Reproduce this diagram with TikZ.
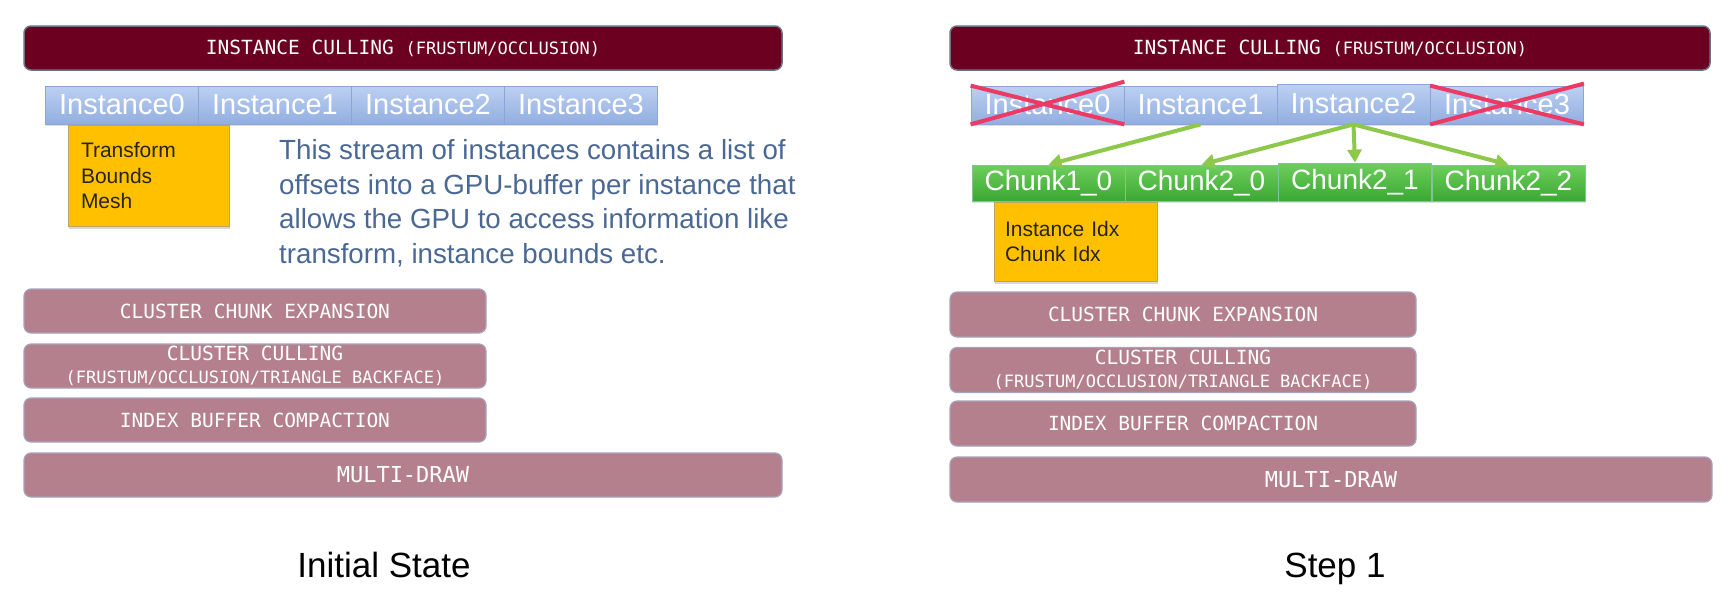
\documentclass[tikz,border=0pt]{standalone}
\usepackage{fontspec}
\setmainfont{Liberation Sans}
\newfontfamily\pipefont{DejaVu Sans Mono}
\usetikzlibrary{arrows.meta,shadows,calc}
\definecolor{barred}{RGB}{108,0,32}
\definecolor{barborder}{RGB}{112,112,132}
\definecolor{stagepink}{RGB}{181,128,141}
\definecolor{stageborder}{RGB}{168,162,188}
\definecolor{insttop}{RGB}{188,208,242}
\definecolor{instbot}{RGB}{146,174,224}
\definecolor{instborder}{RGB}{140,165,214}
\definecolor{chunktop}{RGB}{110,206,92}
\definecolor{chunkbot}{RGB}{58,168,50}
\definecolor{chunkborder}{RGB}{130,196,150}
\definecolor{infoyellow}{RGB}{255,192,0}
\definecolor{infoborder}{RGB}{185,165,100}
\definecolor{infotext}{RGB}{40,36,20}
\definecolor{paratext}{RGB}{74,104,148}
\definecolor{crossred}{RGB}{236,58,100}
\definecolor{arrowgreen}{RGB}{142,200,75}
\tikzset{
  cullbar/.style={draw=barborder, line width=1.5pt, fill=barred, rounded corners=7pt,
    text=white, font=\pipefont\fontsize{19.5}{23}\selectfont, inner sep=0pt},
  stage/.style={draw=stageborder, line width=1.2pt, fill=stagepink, rounded corners=7pt,
    text=white, font=\pipefont\fontsize{19.5}{23}\selectfont, align=center, inner sep=0pt},
  inst/.style={draw=instborder, line width=0.8pt, top color=insttop, bottom color=instbot,
    text=white, font=\fontsize{29}{32}\selectfont, minimum width=153, minimum height=38,
    inner sep=0pt, drop shadow={shadow xshift=0pt, shadow yshift=-2pt, opacity=0.25}},
  chunkbox/.style={draw=chunkborder, line width=0.8pt, top color=chunktop, bottom color=chunkbot,
    text=white, font=\fontsize{28}{31}\selectfont, minimum width=153, minimum height=36,
    inner sep=0pt, drop shadow={shadow xshift=0pt, shadow yshift=-2pt, opacity=0.25}},
  infobox/.style={draw=infoborder, line width=0.8pt, fill=infoyellow, text=infotext,
    font=\fontsize{21}{25.5}\selectfont, align=left, inner ysep=0pt,
    drop shadow={shadow xshift=1pt, shadow yshift=-3pt, opacity=0.3}},
  crossline/.style={draw=crossred, line width=4pt},
  greenarrow/.style={draw=arrowgreen, line width=4pt, -{Triangle[length=13pt,width=14pt]}},
  caption/.style={font=\fontsize{35}{40}\selectfont, anchor=base, text=black}
}
\begin{document}
\begin{tikzpicture}[x=1pt,y=-1pt]
\fill[white] (0,0) rectangle (1730,603);
\useasboundingbox (0,0) rectangle (1730,603);

%%%%%%%%%%%%%%%% LEFT: Initial State
\node[cullbar, minimum width=758, minimum height=44] (barL) at (403,48)
  {INSTANCE CULLING {\fontsize{17}{20}\selectfont(FRUSTUM/OCCLUSION)}};

\node[inst] (i0L) at (122,105) {Instance0};
\node[inst] (i1L) at (275,105) {Instance1};
\node[inst] (i2L) at (428,105) {Instance2};
\node[inst] (i3L) at (581,105) {Instance3};

\node[infobox, minimum width=161, minimum height=101, text width=135, inner xsep=13pt]
  (infoL) at (148.5,175.5) {Transform\\Bounds\\Mesh};

\node[anchor=north west, align=left, inner sep=0pt, text=paratext,
  font=\fontsize{27.7}{34.5}\selectfont] (para) at (279,139.5)
  {This stream of instances contains a list of\\
   offsets into a GPU-buffer per instance that\\
   allows the GPU to access information like\\
   transform, instance bounds etc.};

\node[stage, minimum width=462, minimum height=44] (cceL) at (255,311) {CLUSTER CHUNK EXPANSION};
\node[stage, minimum width=462, minimum height=44] (ccL) at (255,366)
  {CLUSTER CULLING\\{\fontsize{17}{20}\selectfont(FRUSTUM/OCCLUSION/TRIANGLE BACKFACE)}};
\node[stage, minimum width=462, minimum height=44] (ibcL) at (255,420) {INDEX BUFFER COMPACTION};
\node[stage, minimum width=758, minimum height=44, font=\pipefont\fontsize{22}{26}\selectfont]
  (mdL) at (403,475) {MULTI-DRAW};

\node[caption] (titleL) at (384,577) {Initial State};

%%%%%%%%%%%%%%%% RIGHT: Step 1
\node[cullbar, minimum width=760, minimum height=44] (barR) at (1330,48)
  {INSTANCE CULLING {\fontsize{17}{20}\selectfont(FRUSTUM/OCCLUSION)}};

\node[inst] (i0R) at (1047.5,105) {Instance0};
\node[inst] (i1R) at (1200.5,105) {Instance1};
\node[inst, minimum height=40] (i2R) at (1353.5,104) {Instance2};
\node[inst] (i3R) at (1507,105) {Instance3};

\node[chunkbox] (c10) at (1048.5,183) {Chunk1\_0};
\node[chunkbox] (c20) at (1201.5,183) {Chunk2\_0};
\node[chunkbox, minimum height=38] (c21) at (1355,182) {Chunk2\_1};
\node[chunkbox] (c22) at (1508.5,183) {Chunk2\_2};

\node[infobox, minimum width=163, minimum height=79, text width=141, inner xsep=11pt]
  (infoR) at (1075.5,241.5) {Instance Idx\\Chunk Idx};

\node[stage, minimum width=466, minimum height=45] (cceR) at (1183,314.5) {CLUSTER CHUNK EXPANSION};
\node[stage, minimum width=466, minimum height=45] (ccR) at (1183,370)
  {CLUSTER CULLING\\{\fontsize{17}{20}\selectfont(FRUSTUM/OCCLUSION/TRIANGLE BACKFACE)}};
\node[stage, minimum width=466, minimum height=45] (ibcR) at (1183,423.5) {INDEX BUFFER COMPACTION};
\node[stage, minimum width=762, minimum height=45, font=\pipefont\fontsize{22}{26}\selectfont]
  (mdR) at (1331,479.5) {MULTI-DRAW};

\node[caption] (titleR) at (1335,577) {Step 1};

% culled instances
\draw[crossline] (i0R.north west) -- (i0R.south east);
\draw[crossline] (i0R.south west) -- ($(i0R.north east)+(0,-4)$);
\draw[crossline] (i3R.north west) -- (i3R.south east);
\draw[crossline] (i3R.south west) -- ($(i3R.north east)+(0,-2)$);

% expansion arrows
\draw[greenarrow] (i1R.south) -- (c10.north);
\draw[greenarrow] (i2R.south) -- (c20.north);
\draw[greenarrow] (i2R.south) -- (c21.north);
\draw[greenarrow] (i2R.south) -- (c22.north);
\end{tikzpicture}
\end{document}
